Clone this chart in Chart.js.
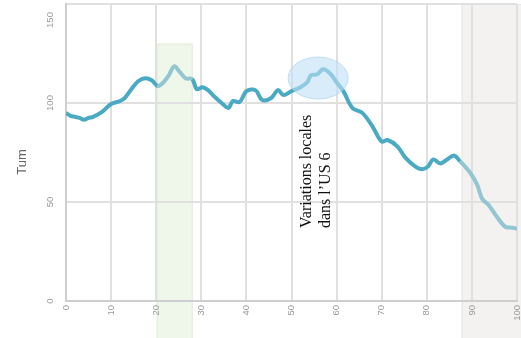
<!DOCTYPE html>
<html>
<head>
<meta charset="utf-8">
<script src="https://cdn.jsdelivr.net/npm/chart.js@4"></script>
<style>
  body { margin: 0; background: #fff; }
  #wrap { width: 521px; height: 338px; }
</style>
</head>
<body>
<div id="wrap"><canvas id="tumChart" width="521" height="338"></canvas></div>
<script>
// depth positions (x) and Tum values
const depth = [0, 1, 2, 3, 4, 5, 6, 8, 10, 12, 13, 14.5, 16, 17.5, 19, 20.3, 21.4, 22.8, 24, 25.3,
  26.5, 28, 29, 30.3, 31.5, 33, 34.5, 36, 37, 38.5, 40, 42, 43.5, 45.5, 47, 48.2, 50, 52, 53.5, 54.3,
  55.7, 57, 58.5, 60, 61.5, 63.5, 65.7, 68, 70, 71.3, 73.5, 75.2, 77.4, 79, 80.3, 81.4, 83, 84.5, 86,
  87.4, 89.7, 91.2, 92.3, 93.7, 95.7, 97.4, 99, 100];
const tum = [95, 93.5, 93, 92.5, 91.5, 92.5, 93, 95.5, 99.5, 101, 102.5, 107, 111, 112.5, 111.5, 108.6, 110, 114, 118.5, 115.5,
  112.5, 112, 107, 108, 106.5, 103, 100, 97.5, 101, 100.5, 106, 106.5, 101.5, 102.5, 106.5, 104, 106, 108, 110.5, 114,
  114.5, 117, 115, 110.5, 106, 97.5, 95, 88, 80.5, 81.3, 78, 72.5, 68, 66.5, 68, 71.5, 69.5, 71.5, 73.5,
  70.5, 64.5, 58.5, 51.5, 48.5, 42, 37.5, 37, 36.5];

const xTicks = [0, 10, 20, 30, 40, 50, 60, 70, 80, 90, 100];
const yTicks = [0, 50, 100, 150];

// highlighted zones
const greenZone = { from: 20.1, to: 28.1, top: 130 };
const greyZone = { from: 87.7, to: 101 };
const noteCenter = { x: 55.9, y: 112.6 };
const noteLines = ['Variations locales', 'dans l\u2019US 6'];

const points = depth.map((d, i) => ({ x: d, y: tum[i] }));

const mainColor = '#4aaac3';
const paleColor = '#92c6d1';

const decorPlugin = {
  id: 'decor',
  beforeDraw(chart) {
    const c = chart.ctx;
    const xs = chart.scales.x, ys = chart.scales.y;
    c.save();
    // green zone
    let x1 = xs.getPixelForValue(greenZone.from), x2 = xs.getPixelForValue(greenZone.to);
    let yt = ys.getPixelForValue(greenZone.top);
    c.fillStyle = '#eff6ea';
    c.fillRect(x1, yt, x2 - x1, chart.height - yt);
    c.strokeStyle = '#e3eedb';
    c.lineWidth = 1;
    c.strokeRect(x1 + 0.5, yt + 0.5, x2 - x1 - 1, chart.height - yt);
    // grey zone
    x1 = xs.getPixelForValue(greyZone.from);
    yt = ys.getPixelForValue(150);
    c.fillStyle = '#f3f2f1';
    c.fillRect(x1, yt, chart.width - x1, chart.height - yt);
    c.strokeStyle = '#e8e6e4';
    c.strokeRect(x1 + 0.5, yt + 0.5, chart.width - x1, chart.height - yt);
    c.restore();
  },
  afterDatasetsDraw(chart) {
    const c = chart.ctx;
    const xs = chart.scales.x, ys = chart.scales.y;
    c.save();
    c.beginPath();
    c.ellipse(xs.getPixelForValue(noteCenter.x), ys.getPixelForValue(noteCenter.y), 30, 21, 0, 0, Math.PI * 2);
    c.fillStyle = 'rgba(190, 224, 245, 0.6)';
    c.fill();
    c.strokeStyle = 'rgba(170, 212, 238, 0.7)';
    c.lineWidth = 1;
    c.stroke();
    c.restore();
  },
  afterDraw(chart) {
    const c = chart.ctx;
    const ys = chart.scales.y;
    c.save();
    // y tick labels, rotated
    c.fillStyle = '#999';
    c.font = '9.5px "Liberation Sans", Arial, sans-serif';
    c.textAlign = 'center';
    c.textBaseline = 'middle';
    yTicks.forEach(v => {
      const py = Math.max(ys.getPixelForValue(v), 20);
      c.save();
      c.translate(50, py);
      c.rotate(-Math.PI / 2);
      c.fillText(String(v), 0, 0);
      c.restore();
    });
    // axis title
    c.fillStyle = '#666';
    c.font = '13px "Liberation Sans", Arial, sans-serif';
    c.save();
    c.translate(22, 162);
    c.rotate(-Math.PI / 2);
    c.fillText('Tum', 0, 0);
    c.restore();
    // annotation
    c.fillStyle = '#111';
    c.font = '16px "Liberation Serif", "Times New Roman", serif';
    c.textAlign = 'left';
    c.textBaseline = 'middle';
    c.save();
    c.translate(307, 228);
    c.rotate(-Math.PI / 2);
    c.fillText(noteLines[0], 0, 0);
    c.fillText(noteLines[1], 0, 19);
    c.restore();
    c.restore();
  }
};

const ctx = document.getElementById('tumChart').getContext('2d');

const tumChart = new Chart(ctx, {
  type: 'line',
  data: {
    datasets: [{
      data: points,
      borderColor: mainColor,
      borderWidth: 4,
      pointRadius: 0,
      tension: 0.35,
      fill: false,
      segment: {
        borderColor: s => {
          const a = s.p0.parsed.x, b = s.p1.parsed.x;
          if (a >= 20 && b <= 28.5) return paleColor;
          if (a >= 87.4) return paleColor;
          return mainColor;
        }
      }
    }]
  },
  options: {
    responsive: false,
    animation: false,
    layout: { padding: { top: 4, right: 4 } },
    plugins: {
      legend: { display: false },
      tooltip: { enabled: false }
    },
    scales: {
      x: {
        type: 'linear',
        min: 0,
        max: 100,
        afterFit: s => { s.height = 37; s.paddingLeft = 0; s.paddingRight = 0; },
        afterBuildTicks: s => { s.ticks = xTicks.map(v => ({ value: v })); },
        grid: { color: '#e0e0e0', lineWidth: 2, drawTicks: false },
        border: { color: '#cfcfcf', width: 2 },
        ticks: {
          minRotation: 90,
          maxRotation: 90,
          padding: 4,
          color: '#999',
          font: { size: 9.5, family: '"Liberation Sans", Arial, sans-serif' }
        }
      },
      y: {
        min: 0,
        max: 150,
        afterFit: s => { s.width = 66; s.paddingTop = 0; s.paddingBottom = 0; },
        afterBuildTicks: s => { s.ticks = yTicks.map(v => ({ value: v })); },
        grid: { color: '#e0e0e0', lineWidth: 2, drawTicks: false },
        border: { color: '#cfcfcf', width: 2 },
        ticks: { display: false }
      }
    }
  },
  plugins: [decorPlugin]
});
</script>
</body>
</html>
